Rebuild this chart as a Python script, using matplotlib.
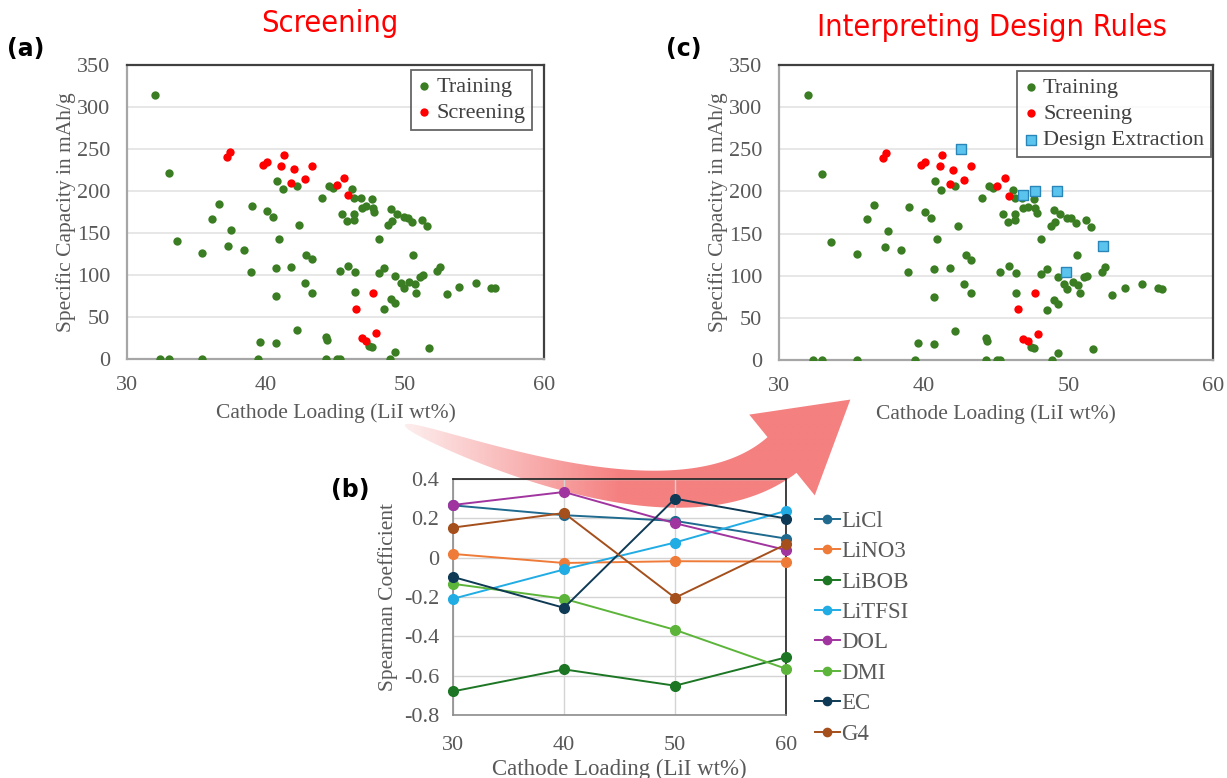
import numpy as np
import matplotlib.pyplot as plt
from matplotlib.patches import Polygon

# ---- data ----
train_x = [32.0, 33.0, 33.6, 35.4, 36.1, 36.6, 37.5, 37.3, 38.4, 39.0, 38.9, 40.1, 40.5, 40.9,
           40.7, 40.7, 40.8, 41.2, 42.2, 42.4, 41.8, 42.8, 42.9, 43.3, 43.3, 44.0, 44.5, 44.8,
           45.3, 45.9, 46.4, 45.5, 46.3, 45.8, 46.3, 46.2, 46.3, 46.8, 47.6, 46.9, 47.2, 47.7,
           47.8, 46.4, 48.1, 48.1, 48.5, 49.0, 49.4, 48.8, 49.1, 49.3, 49.7, 49.9, 49.9, 50.2,
           50.5, 51.2, 51.6, 50.6, 50.3, 50.7, 50.8, 51.1, 51.3, 52.3, 52.5, 53.0, 53.9, 55.1,
           56.2, 56.5, 49.0, 49.3, 48.5, 42.2, 39.6, 40.7, 44.3, 44.4, 47.4, 47.6, 49.3, 51.7,
           32.35, 33.0, 35.4, 39.4, 44.3, 45.1, 45.3, 48.9]
train_y = [314, 221, 140, 126, 167, 184, 153, 134, 130, 182, 104, 176, 169, 143,
           108, 75, 212, 202, 206, 159, 109, 90, 124, 119, 79, 192, 206, 204,
           105, 111, 103, 173, 173, 164, 166, 202, 192, 192, 191, 180, 182, 180,
           175, 80, 143, 102, 108, 178, 173, 159, 164, 99, 90, 84, 169, 168,
           163, 166, 158, 124, 92, 89, 79, 98, 100, 105, 110, 77, 86, 90,
           85, 84, 71, 67, 59, 35, 20, 19, 26, 23, 16, 14, 8, 13,
           0, 0, 0, 0, 0, 0, 0, 0]

screen_x = [37.2, 37.4, 39.8, 40.1, 41.1, 41.3, 42.0, 41.8, 42.8, 43.3, 45.1, 45.6, 45.9,
            46.5, 47.7, 46.9, 47.2, 47.9]
screen_y = [240, 246, 231, 235, 230, 243, 226, 209, 214, 230, 207, 216, 195,
            60, 79, 25, 22, 31]

design_x = [42.6, 46.9, 47.7, 49.2, 52.4, 49.85]
design_y = [250, 196, 201, 200, 135, 104.5]

loading = [30, 40, 50, 60]
spearman = {
    'LiCl':   [0.266, 0.216, 0.187, 0.097],
    'LiNO3':  [0.019, -0.027, -0.018, -0.020],
    'LiBOB':  [-0.680, -0.568, -0.651, -0.507],
    'LiTFSI': [-0.209, -0.060, 0.077, 0.238],
    'DOL':    [0.268, 0.334, 0.175, 0.039],
    'DMI':    [-0.133, -0.209, -0.367, -0.565],
    'EC':     [-0.098, -0.255, 0.300, 0.199],
    'G4':     [0.153, 0.227, -0.204, 0.068],
}
line_colors = {
    'LiCl': '#1f6a8e', 'LiNO3': '#ef7b39', 'LiBOB': '#1c7624', 'LiTFSI': '#21ace4',
    'DOL': '#a1359f', 'DMI': '#5cb53a', 'EC': '#0e3a55', 'G4': '#a44f1c',
}
b_ticks = [0.4, 0.2, 0, -0.2, -0.4, -0.6, -0.8]
b_ticklabels = ['0.4', '0.2', '0', '-0.2', '-0.4', '-0.6', '-0.8']

W, H = 1227, 778
serif = 'Liberation Serif'
grey = '#595959'
green = '#3b7d23'

fig = plt.figure(figsize=(W / 100, H / 100), dpi=100)
fig.patch.set_facecolor('white')

def fr(l, t, r, b):
    return [l / W, 1 - b / H, (r - l) / W, (b - t) / H]

# ---- decorative curved arrow (pixel coords of the figure) ----
ov = fig.add_axes([0, 0, 1, 1])
ov.set_xlim(0, W)
ov.set_ylim(H, 0)
ov.axis('off')
ov.set_zorder(0)
P0 = np.array([405, 425]); P1 = np.array([513, 467])
P2 = np.array([692, 528]); P3 = np.array([782, 455])
t = np.linspace(0, 1, 80)[:, None]
C = (1 - t)**3 * P0 + 3 * (1 - t)**2 * t * P1 + 3 * (1 - t) * t**2 * P2 + t**3 * P3
D = 3 * (1 - t)**2 * (P1 - P0) + 6 * (1 - t) * t * (P2 - P1) + 3 * t**2 * (P3 - P2)
D = D / np.linalg.norm(D, axis=1)[:, None]
N = np.column_stack([-D[:, 1], D[:, 0]])
w = (1 + 22 * t[:, 0]**0.55)[:, None]
up = C + N * w
lo = C - N * w
tip = P3 + 88 * D[-1]
hw = 52
head = [P3 + N[-1] * hw, tip, P3 - N[-1] * hw]
pts = np.vstack([up, head, lo[::-1]])
poly = Polygon(pts, closed=True, facecolor='none', edgecolor='none')
ov.add_patch(poly)
gx = np.linspace(395, 875, 300)
alpha = np.clip((gx - 400) / 220, 0, 1) * 0.75 + 0.1
img = np.zeros((2, 300, 4))
img[..., 0] = 243 / 255; img[..., 1] = 105 / 255; img[..., 2] = 105 / 255
img[..., 3] = alpha
im = ov.imshow(img, extent=[395, 875, 560, 380], aspect='auto', interpolation='bilinear')
im.set_clip_path(poly)

# ---- scatter panels ----
def scatter_panel(rect, with_design, leg_anchor):
    ax = fig.add_axes(rect)
    ax.set_zorder(1)
    ax.scatter(train_x, train_y, s=36, color=green, zorder=3, label='Training', linewidths=0)
    ax.scatter(screen_x, screen_y, s=36, color='#ff0000', zorder=3, label='Screening', linewidths=0)
    if with_design:
        ax.scatter(design_x, design_y, s=60, marker='s', color='#5bc4ee', edgecolors='#2a86b8',
                   linewidths=1, zorder=4, label='Design Extraction')
    ax.set_xlim(30, 60)
    ax.set_ylim(0, 350)
    ax.set_xticks([30, 40, 50, 60])
    ax.set_yticks(range(0, 351, 50))
    ax.grid(axis='y', color='#e3e3e3', lw=1.2)
    ax.set_axisbelow(True)
    ax.tick_params(length=0, pad=12, labelsize=16, labelcolor=grey)
    for lab in ax.get_xticklabels() + ax.get_yticklabels():
        lab.set_family(serif)
    for s in ['top', 'right']:
        ax.spines[s].set_color('#404040'); ax.spines[s].set_linewidth(1.6)
    for s in ['left', 'bottom']:
        ax.spines[s].set_color('#a6a6a6'); ax.spines[s].set_linewidth(1.6)
    ax.set_xlabel('Cathode Loading (LiI wt%)', family=serif, fontsize=15.5, color=grey, labelpad=6)
    ax.set_ylabel('Specific Capacity in mAh/g', family=serif, fontsize=15.5, color=grey, labelpad=1)
    leg = ax.legend(loc='upper right', bbox_to_anchor=leg_anchor, fancybox=False,
                    prop={'family': serif, 'size': 16}, handletextpad=0.25, borderpad=0.3,
                    labelspacing=0.25, handlelength=0.6, borderaxespad=0)
    leg.get_frame().set_edgecolor('#404040')
    leg.get_frame().set_linewidth(1.3)
    for txt in leg.get_texts():
        txt.set_color('#404040')
    return ax

ax_a = scatter_panel(fr(127, 65, 544, 359), False, (0.971, 0.983))
ax_c = scatter_panel(fr(779, 65, 1213, 360), True, (0.995, 0.98))

# ---- Spearman panel ----
ax_b = fig.add_axes(fr(453, 479, 786, 715))
ax_b.set_zorder(2)
ax_b.patch.set_alpha(0)
for name, vals in spearman.items():
    ax_b.plot(loading, vals, color=line_colors[name], lw=1.4, marker='o', ms=7,
              label=name, clip_on=False, zorder=3)
ax_b.set_xlim(30, 60)
ax_b.set_ylim(-0.8, 0.4)
ax_b.set_xticks(loading)
ax_b.set_yticks(b_ticks)
ax_b.set_yticklabels(b_ticklabels)
ax_b.grid(color='#d4d4d4', lw=1)
ax_b.set_axisbelow(True)
ax_b.tick_params(length=0, labelsize=16, labelcolor=grey)
ax_b.tick_params(axis='x', pad=15)
ax_b.tick_params(axis='y', pad=10)
for lab in ax_b.get_xticklabels() + ax_b.get_yticklabels():
    lab.set_family(serif)
for s in ['top', 'right']:
    ax_b.spines[s].set_color('#202020'); ax_b.spines[s].set_linewidth(1.2)
for s in ['left', 'bottom']:
    ax_b.spines[s].set_color('#8c8c8c'); ax_b.spines[s].set_linewidth(1.2)
ax_b.set_xlabel('Cathode Loading (LiI wt%)', family=serif, fontsize=16.5, color=grey, labelpad=3)
ax_b.set_ylabel('Spearman Coefficient', family=serif, fontsize=15.5, color=grey, labelpad=4)
legb = ax_b.legend(loc='upper left', bbox_to_anchor=(794 / W, 1 - 490 / H),
                   bbox_transform=fig.transFigure, frameon=False,
                   prop={'family': serif, 'size': 16.5}, handlelength=1.1, handletextpad=0.05,
                   labelspacing=0.41, markerscale=0.85)
for txt in legb.get_texts():
    txt.set_color(grey)

# ---- titles and panel letters ----
fig.text(330 / W, 1 - 23 / H, 'Screening', color='#ff0000', fontsize=22,
         family='DejaVu Sans', fontstretch='condensed', ha='center', va='center')
fig.text(992 / W, 1 - 28 / H, 'Interpreting Design Rules', color='#ff0000', fontsize=22,
         family='DejaVu Sans', fontstretch='condensed', ha='center', va='center')
for x, y, s in [(26, 49, '(a)'), (684, 49, '(c)'), (350, 490, '(b)')]:
    fig.text(x / W, 1 - y / H, s, fontsize=17, weight='bold', ha='center', va='center',
             family='DejaVu Sans')

fig.savefig('out.png', dpi=100)
